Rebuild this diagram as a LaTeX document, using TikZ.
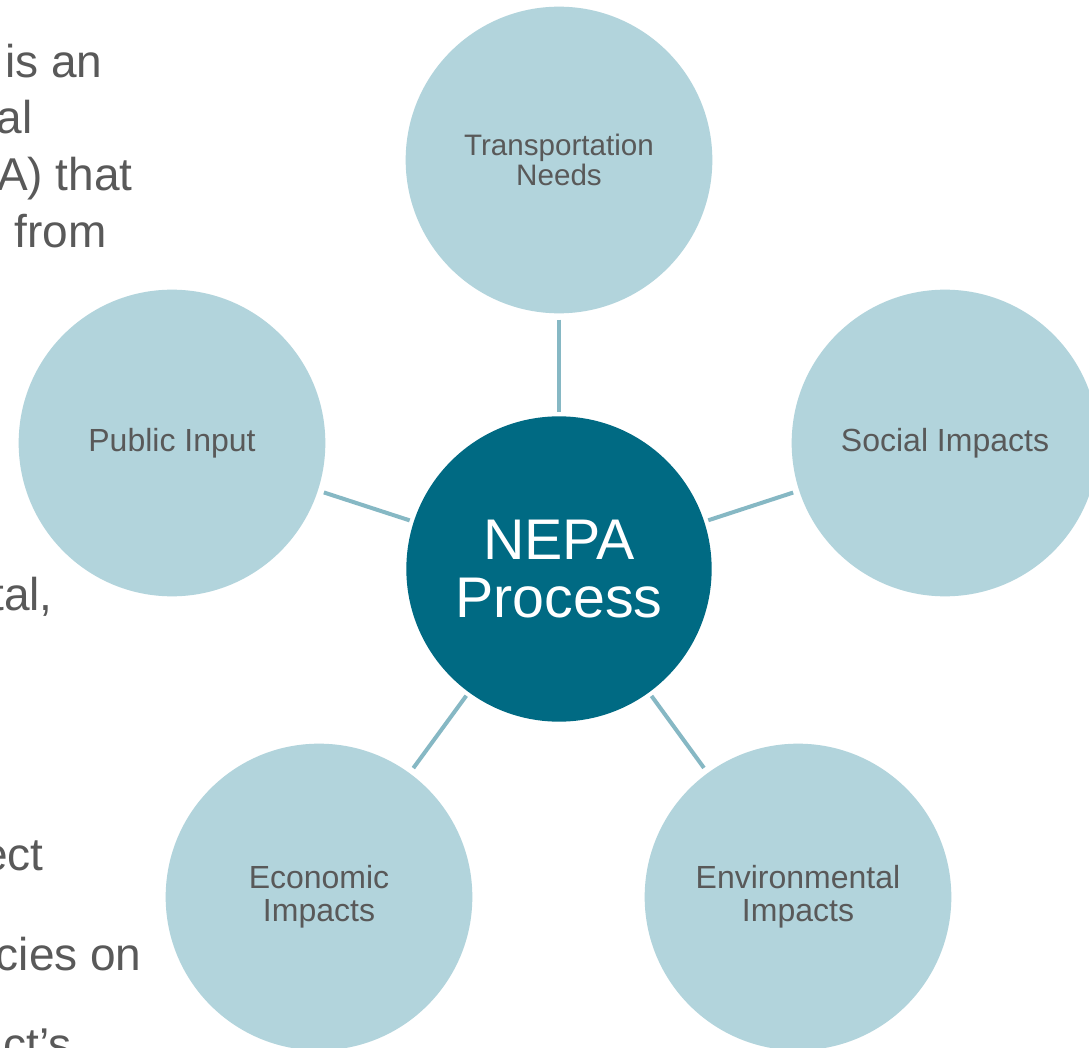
\documentclass[tikz,border=0pt]{standalone}
\usepackage{fontspec}
\setmainfont{Liberation Sans}
\definecolor{hubblue}{HTML}{006A83}
\definecolor{petal}{HTML}{B2D4DC}
\definecolor{spoke}{HTML}{86B8C4}
\definecolor{labelgray}{HTML}{595959}
\tikzset{
  every path/.style={semithick},
  petal/.style={circle, fill=petal, minimum size=230pt, inner sep=0pt,
    align=center, text=labelgray, font=\fontsize{24}{25}\selectfont},
  hub/.style={circle, fill=hubblue, minimum size=229pt, inner sep=0pt,
    align=center, text=white, font=\fontsize{43}{44}\selectfont},
  spokeline/.style={draw=spoke, line width=3pt, shorten <=4.5pt, shorten >=3pt},
  bodytext/.style={anchor=base east, inner sep=0pt, text=labelgray,
    font=\fontsize{34.5}{42}\selectfont}
}

\begin{document}
\begin{tikzpicture}[x=0.75pt, y=-0.75pt]
    \useasboundingbox (0,0) rectangle (1089,1048);
    \fill[white] (0,0) rectangle (1089,1048);

    % slide text, cut off at the left edge
    \node[bodytext] (txtA) at (103,78)  {is an};
    \node[bodytext] (txtB) at (33,134)  {al};
    \node[bodytext] (txtC) at (133,191) {A) that};
    \node[bodytext] (txtD) at (107,248) {from};
    \node[bodytext] (txtE) at (53,610)  {tal,};
    \node[bodytext] (txtF) at (44,870)  {ect};
    \node[bodytext] (txtG) at (142,970) {cies on};
    \node[bodytext] (txtH) at (72,1060) {ct's};

    % centre
    \node[hub] (nepa) at (559,569) {NEPA\\Process};

    % petals
    \node[petal, font=\fontsize{22.2}{23}\selectfont] (needs) at (559,160) {Transportation\\Needs};
    \node[petal] (social) at (945,443) {Social Impacts};
    \node[petal] (envir)  at (798,897) {Environmental\\Impacts};
    \node[petal] (econ)   at (319,897) {Economic\\Impacts};
    \node[petal] (public) at (172,443) {Public Input};

    % spokes
    \draw[spokeline] (needs)  -- (nepa);
    \draw[spokeline] (social) -- (nepa);
    \draw[spokeline] (envir)  -- (nepa);
    \draw[spokeline] (econ)   -- (nepa);
    \draw[spokeline] (public) -- (nepa);
\end{tikzpicture}
\end{document}
